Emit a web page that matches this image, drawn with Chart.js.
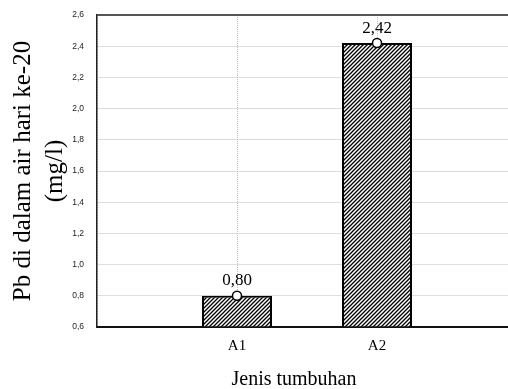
<!DOCTYPE html>
<html>
<head>
<meta charset="utf-8">
<script src="https://cdn.jsdelivr.net/npm/chart.js@4.4.1/dist/chart.umd.min.js"></script>
<style>
  html, body { margin: 0; padding: 0; overflow: hidden; background: #fff; }
  #wrap { width: 523px; height: 389px; }
  #c { width: 523px; height: 389px; }
</style>
</head>
<body>
<div id="wrap"><canvas id="c" width="523" height="389"></canvas></div>
<script>
// Plant types on the x axis (empty slots pad the axis on both sides)
const categories = ['', 'A1', 'A2', ''];
// Pb concentration in water on day 20 (mg/l)
const pbValues = [null, 0.80, 2.42, null];
// Value axis range and step
const yMin = 0.6;
const yMax = 2.6;
const yStep = 0.2;

const xTitle = 'Jenis tumbuhan';
const yTitle = ['Pb di dalam air hari ke-20', '(mg/l)'];

const comma = (v, d) => Number(v).toFixed(d).replace('.', ',');

// Diagonal hatch fill for the bars
function hatch() {
  const p = document.createElement('canvas');
  p.width = 4; p.height = 4;
  const g = p.getContext('2d');
  g.fillStyle = '#fff';
  g.fillRect(0, 0, 4, 4);
  g.strokeStyle = '#000';
  g.lineWidth = 1.3;
  g.beginPath();
  g.moveTo(-1, 5); g.lineTo(5, -1);
  g.moveTo(-1, 1); g.lineTo(1, -1);
  g.moveTo(3, 5); g.lineTo(5, 3);
  g.stroke();
  return g.createPattern(p, 'repeat');
}

// Top frame line of the plot area
const frameTop = {
  id: 'frameTop',
  afterDraw(chart) {
    const { ctx, chartArea } = chart;
    ctx.save();
    ctx.strokeStyle = '#555';
    ctx.lineWidth = 2;
    ctx.beginPath();
    ctx.moveTo(chartArea.left, chartArea.top);
    ctx.lineTo(chartArea.right, chartArea.top);
    ctx.stroke();
    ctx.restore();
  }
};

// Value labels above the markers
const valueLabels = {
  id: 'valueLabels',
  afterDatasetsDraw(chart) {
    const { ctx } = chart;
    const meta = chart.getDatasetMeta(1);
    ctx.save();
    ctx.font = '17px "Liberation Serif", "Times New Roman", serif';
    ctx.fillStyle = '#000';
    ctx.textAlign = 'center';
    ctx.textBaseline = 'alphabetic';
    meta.data.forEach((pt, i) => {
      const v = pbValues[i];
      if (v == null) return;
      ctx.fillText(comma(v, 2), pt.x, pt.y - 10.5);
    });
    ctx.restore();
  }
};

// x-axis title, centred under the visible part of the axis
const xAxisTitle = {
  id: 'xAxisTitle',
  afterDraw(chart) {
    const { ctx } = chart;
    const xs = chart.scales.x;
    ctx.save();
    ctx.font = '20px "Liberation Serif", "Times New Roman", serif';
    ctx.fillStyle = '#000';
    ctx.textAlign = 'center';
    ctx.textBaseline = 'alphabetic';
    ctx.fillText(xTitle, (xs.left + 491) / 2, xs.bottom - 4);
    ctx.restore();
  }
};

new Chart(document.getElementById('c'), {
  data: {
    labels: categories,
    datasets: [
      {
        type: 'bar',
        data: pbValues,
        base: yMin,
        backgroundColor: hatch(),
        borderColor: '#000',
        borderWidth: 2,
        categoryPercentage: 0.5,
        barPercentage: 1,
        order: 2
      },
      {
        type: 'line',
        data: pbValues,
        showLine: false,
        pointRadius: 4.5,
        pointBackgroundColor: '#fff',
        pointBorderColor: '#000',
        pointBorderWidth: 1.5,
        order: 1
      }
    ]
  },
  options: {
    responsive: false,
    animation: false,
    events: [],
    layout: { padding: { left: 0, top: 15, right: 0, bottom: 0 } },
    plugins: { legend: { display: false }, tooltip: { enabled: false } },
    scales: {
      x: {
        type: 'category',
        offset: false,
        afterFit(s) { s.height = 62; s.paddingLeft = 0; s.paddingRight = 0; },
        grid: { offset: false, color: '#bdbdbd', lineWidth: 1, drawTicks: false },
        border: { display: true, color: '#111', width: 2, dash: [1, 1] },
        ticks: {
          padding: 10,
          color: '#000',
          font: { family: '"Liberation Serif", "Times New Roman", serif', size: 15 },
          autoSkip: false,
          maxRotation: 0
        },
        title: { display: false }
      },
      y: {
        min: yMin,
        max: yMax,
        afterFit(s) { s.width = 97; s.paddingTop = 0; s.paddingBottom = 0; },
        grid: { color: '#bdbdbd', lineWidth: 1, drawTicks: false },
        border: { display: true, color: '#222', width: 1.5, dash: [1, 1] },
        ticks: {
          stepSize: yStep,
          padding: 13,
          color: '#222',
          font: { family: '"Liberation Sans", Arial, sans-serif', size: 8.5 },
          callback: (v) => comma(v, 1)
        },
        title: {
          display: true,
          text: yTitle,
          color: '#000',
          font: { family: '"Liberation Serif", "Times New Roman", serif', size: 25, lineHeight: 1.3 },
          padding: { top: 6.75, bottom: 0 }
        }
      }
    }
  },
  plugins: [frameTop, valueLabels, xAxisTitle]
});
</script>
</body>
</html>
